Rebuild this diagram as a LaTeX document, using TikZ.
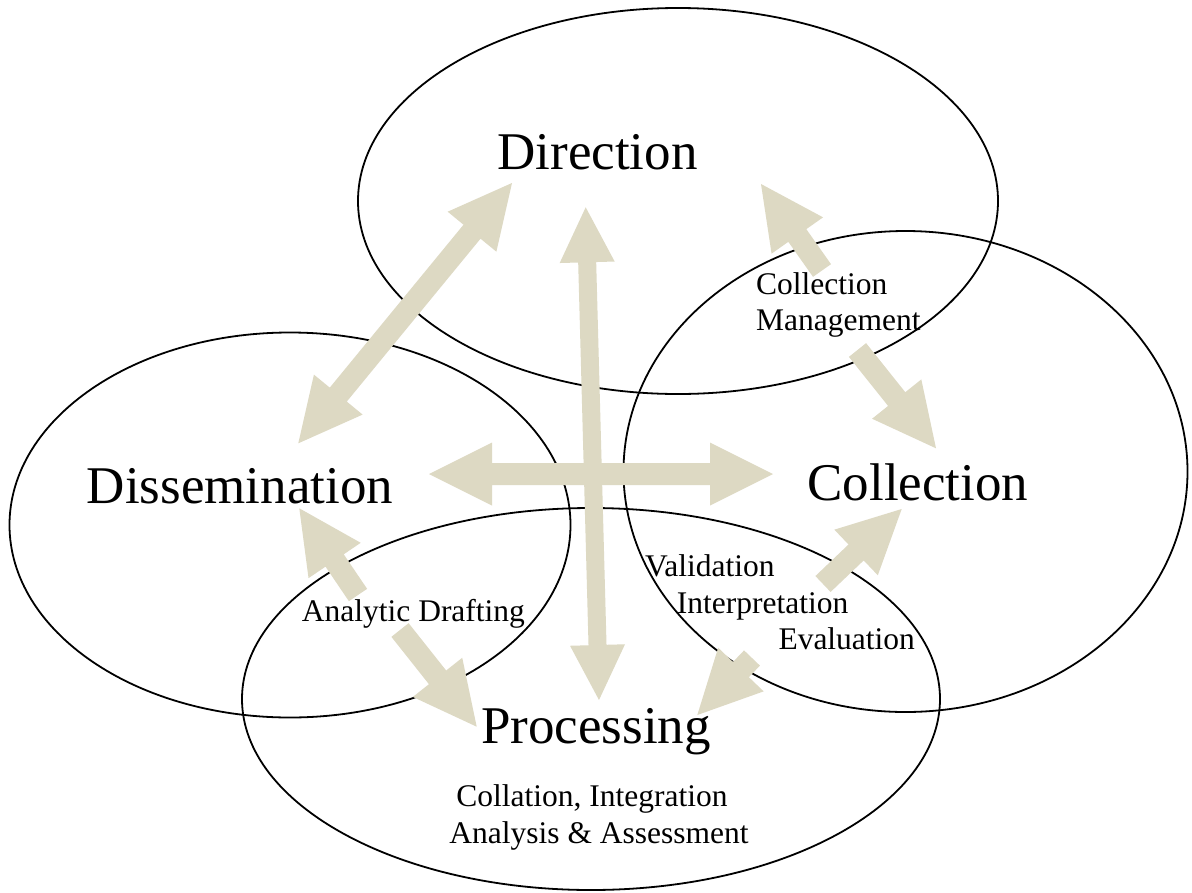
\documentclass[tikz,border=0pt]{standalone}
\usepackage{fontspec}
\setmainfont{Liberation Serif}
\usetikzlibrary{calc}
\definecolor{arrowbeige}{RGB}{221,217,195}
\tikzset{
  ring/.style={draw=black, line width=1.8pt},
  bigtext/.style={font=\fontsize{53}{60}\selectfont, inner sep=0pt, anchor=base},
  smalltext/.style={font=\fontsize{31.5}{36}\selectfont, inner sep=0pt, anchor=base west},
  smallc/.style={font=\fontsize{31.5}{36}\selectfont, inner sep=0pt, anchor=base},
  blockfill/.style={fill=arrowbeige, draw=none}
}
% single block arrow: #1 tail, #2 tip, #3 shaft half width, #4 head half width, #5 head length
\newcommand\mysinglearrow[5]{%
  \path ($(#2)!#5!(#1)$) coordinate (hbx);
  \fill[blockfill] ($(#1)!#3!90:(#2)$) -- ($(hbx)!#3!90:(#2)$) -- ($(hbx)!#4!90:(#2)$) -- (#2)
    -- ($(hbx)!#4!-90:(#2)$) -- ($(hbx)!#3!-90:(#2)$) -- ($(#1)!#3!-90:(#2)$) -- cycle;
}
% double block arrow: #1 tip, #2 tip
\newcommand\mydoublearrow[5]{%
  \path ($(#1)!#5!(#2)$) coordinate (hax);
  \path ($(#2)!#5!(#1)$) coordinate (hbx);
  \fill[blockfill] (#1) -- ($(hax)!#4!90:(#2)$) -- ($(hax)!#3!90:(#2)$) -- ($(hbx)!#3!-90:(#1)$)
    -- ($(hbx)!#4!-90:(#1)$) -- (#2) -- ($(hbx)!#4!90:(#1)$) -- ($(hbx)!#3!90:(#1)$)
    -- ($(hax)!#3!-90:(#2)$) -- ($(hax)!#4!-90:(#2)$) -- cycle;
}
\begin{document}
\begin{tikzpicture}[x=1pt, y=-1pt]
\useasboundingbox (0,0) rectangle (1192,892);
\fill[white] (0,0) rectangle (1192,892);
% ellipses
\draw[ring] (678,201) ellipse [x radius=320pt, y radius=193pt];
\draw[ring] (290,525) ellipse [x radius=280.5pt, y radius=192.5pt];
\draw[ring] (905.5,471.5) ellipse [x radius=282pt, y radius=240.5pt];
\draw[ring] (591,699) ellipse [x radius=349pt, y radius=191pt];
% arrow end points
\coordinate (dirDisA) at (298.3,443.3);
\coordinate (dirDisB) at (512,183);
\coordinate (horA) at (429,474);
\coordinate (horB) at (773,474);
\coordinate (verA) at (585.7,207.3);
\coordinate (verB) at (599,700);
\coordinate (cmUpT) at (822,270.5);
\coordinate (cmUpH) at (761,184);
\coordinate (cmDnT) at (857.5,350);
\coordinate (cmDnH) at (936,448.3);
\coordinate (adUpT) at (358,595);
\coordinate (adUpH) at (299.3,508.3);
\coordinate (adDnT) at (400,630);
\coordinate (adDnH) at (476.7,726.7);
\coordinate (vieUpT) at (823,584);
\coordinate (vieUpH) at (901.7,509);
\coordinate (vieDnT) at (752,658);
\coordinate (vieDnH) at (697.3,715);
% arrows
\mydoublearrow{dirDisA}{dirDisB}{11pt}{31.5pt}{63pt}
\mydoublearrow{horA}{horB}{11pt}{31.5pt}{63pt}
\mydoublearrow{verA}{verB}{9pt}{27.5pt}{55pt}
\mysinglearrow{cmUpT}{cmUpH}{11pt}{31.5pt}{63pt}
\mysinglearrow{cmDnT}{cmDnH}{11pt}{31.5pt}{63pt}
\mysinglearrow{adUpT}{adUpH}{11pt}{31.5pt}{63pt}
\mysinglearrow{adDnT}{adDnH}{11pt}{31.5pt}{63pt}
\mysinglearrow{vieUpT}{vieUpH}{11pt}{31.5pt}{63pt}
\mysinglearrow{vieDnT}{vieDnH}{11pt}{31.5pt}{63pt}
% labels
\node[bigtext] (direction) at (597.5,169) {Direction};
\node[bigtext] (dissemination) at (240,503.3) {Dissemination};
\node[bigtext] (collection) at (918,500) {Collection};
\node[bigtext] (processing) at (596,743.3) {Processing};
\node[smalltext] (cm1) at (756,294.3) {Collection};
\node[smalltext] (cm2) at (756,330) {Management};
\node[smalltext] (ad) at (301.7,621.7) {Analytic Drafting};
\node[smalltext] (vie1) at (645,576.7) {Validation};
\node[smalltext] (vie2) at (676.7,613.3) {Interpretation};
\node[smalltext] (vie3) at (778.3,649.3) {Evaluation};
\node[smallc] (pr1) at (592,806.7) {Collation, Integration};
\node[smallc] (pr2) at (599,843.3) {Analysis \& Assessment};
\end{tikzpicture}
\end{document}
